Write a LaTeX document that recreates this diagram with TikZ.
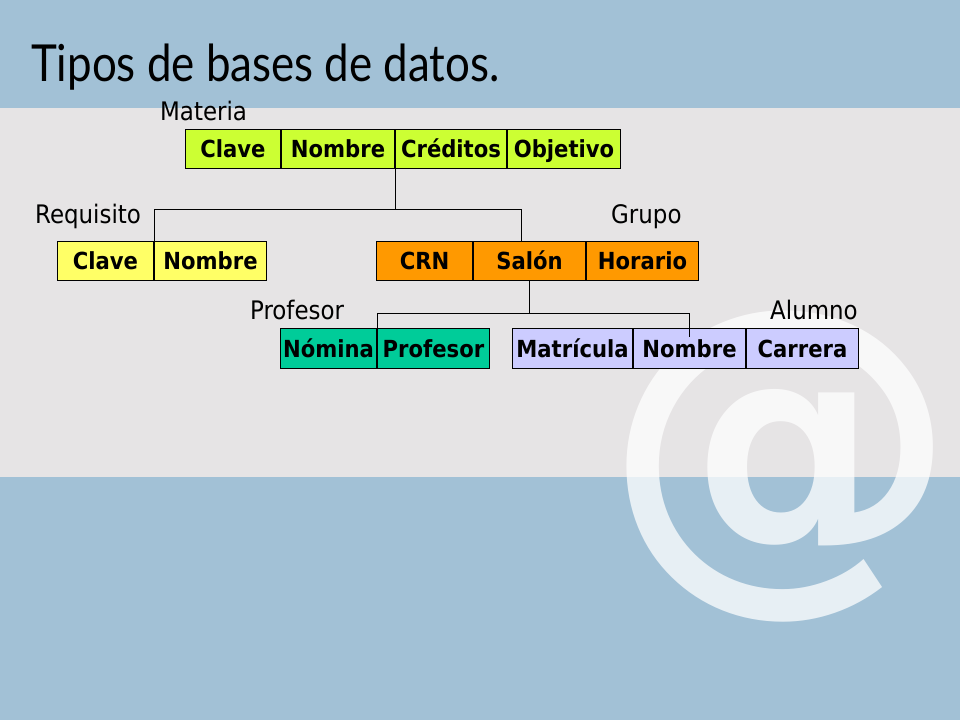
\documentclass[tikz,border=0pt]{standalone}
\usepackage{fontspec}
\newfontfamily\lab{DejaVu Sans Condensed}
\newfontfamily\atfont{DejaVu Sans}
\newfontfamily\tit[FakeStretch=0.86]{Lato}
\definecolor{topblue}{HTML}{A2C1D6}
\definecolor{midgray}{HTML}{E6E4E5}
\definecolor{cgreen}{HTML}{CCFF33}
\definecolor{cyellow}{HTML}{FFFF66}
\definecolor{corange}{HTML}{FF9900}
\definecolor{cteal}{HTML}{00CC99}
\definecolor{clav}{HTML}{CCCCFF}
\begin{document}
\begin{tikzpicture}[x=1pt,y=-1pt,
  cell/.style={draw=black, line width=1pt, inner sep=0pt, anchor=north west,
    minimum height=39pt, text height=22pt, text depth=5pt,
    font=\lab\bfseries\fontsize{23.5}{26}\selectfont},
  lbl/.style={anchor=base west, inner sep=0pt, font=\lab\fontsize{25.5}{30}\selectfont},
  conn/.style={draw=black, line width=1pt}]
\useasboundingbox (0,0) rectangle (960,720);
% backgrounds
\fill[topblue] (0,0) rectangle (960,720);
\fill[midgray] (0,108) rectangle (960,477);
% watermark
\node[inner sep=0pt, text=white, text opacity=0.75,
  font=\atfont\bfseries\fontsize{355}{355}\selectfont] (at) at (781,467) {@};
% title
\node[anchor=base west, inner sep=0pt, font=\tit\fontsize{51}{60}\selectfont] (title) at (31,81) {Tipos de bases de datos.};
% labels
\node[lbl] (lmat) at (160,120) {Materia};
\node[lbl] (lreq) at (35,223) {Requisito};
\node[lbl] (lgru) at (611,223) {Grupo};
\node[lbl] (lpro) at (250,319) {Profesor};
\node[lbl] (lalu) at (770,319) {Alumno};
% Materia
\node[cell, fill=cgreen, minimum width=95pt] (m1) at (185,129) {Clave};
\node[cell, fill=cgreen, minimum width=113pt] (m2) at (m1.north east) {Nombre};
\node[cell, fill=cgreen, minimum width=111pt] (m3) at (m2.north east) {Créditos};
\node[cell, fill=cgreen, minimum width=113pt] (m4) at (m3.north east) {Objetivo};
% Requisito
\node[cell, fill=cyellow, minimum width=96pt] (r1) at (57,241) {Clave};
\node[cell, fill=cyellow, minimum width=112pt] (r2) at (r1.north east) {Nombre};
% Grupo
\node[cell, fill=corange, minimum width=96pt] (g1) at (376,241) {CRN};
\node[cell, fill=corange, minimum width=112pt] (g2) at (g1.north east) {Salón};
\node[cell, fill=corange, minimum width=112pt] (g3) at (g2.north east) {Horario};
% Profesor
\node[cell, fill=cteal, minimum width=96pt, minimum height=40pt] (p1) at (280,328) {Nómina};
\node[cell, fill=cteal, minimum width=112pt, minimum height=40pt] (p2) at (p1.north east) {Profesor};
% Alumno
\node[cell, fill=clav, minimum width=120pt, minimum height=40pt] (a1) at (512,328) {Matrícula};
\node[cell, fill=clav, minimum width=112pt, minimum height=40pt] (a2) at (a1.north east) {Nombre};
\node[cell, fill=clav, minimum width=112pt, minimum height=40pt] (a3) at (a2.north east) {Carrera};
% connectors
\draw[conn] (m3.south west) -- ++(0,40) -| (r1.north east);
\draw[conn] (m3.south west) -- ++(0,40) -| ([xshift=-8pt]g2.north);
\draw[conn] (g2.south) -- ++(0,32) -| (p2.north west);
\draw[conn] (g2.south) -- ++(0,32) -| ([yshift=-9pt]a2.north);
\end{tikzpicture}
\end{document}
